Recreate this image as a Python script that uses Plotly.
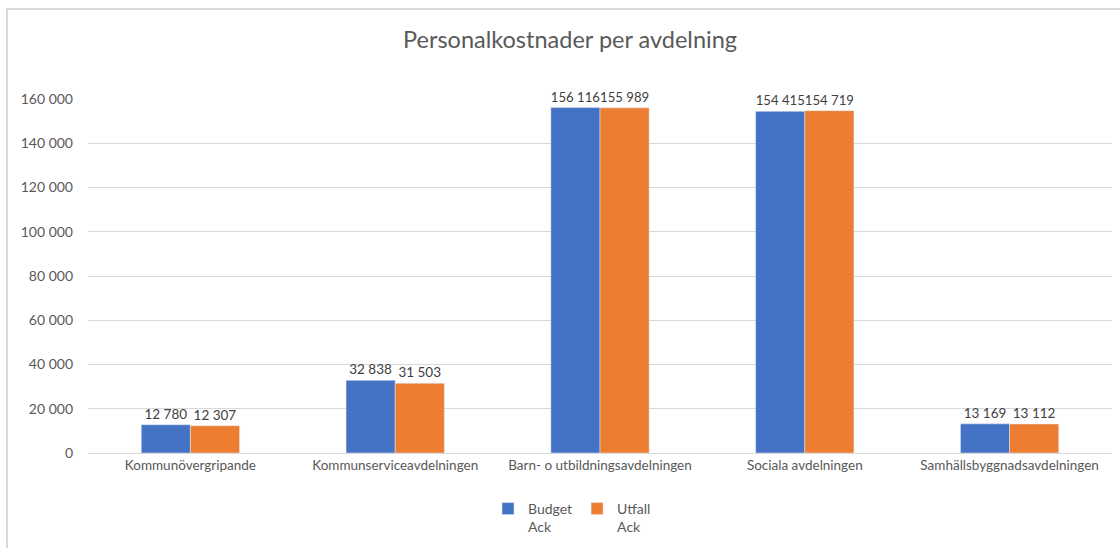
import plotly.graph_objects as go

categories = ["Kommunövergripande", "Kommunserviceavdelningen", "Barn- o utbildningsavdelningen",
              "Sociala avdelningen", "Samhällsbyggnadsavdelningen"]
budget_ack = [12780, 32838, 156116, 154415, 13169]
utfall_ack = [12307, 31503, 155989, 154719, 13112]
y_ticks = [0, 20000, 40000, 60000, 80000, 100000, 120000, 140000, 160000]

FONT = "Lato, 'Open Sans', sans-serif"

fig = go.Figure()
fig.add_trace(go.Bar(name="Budget<br>Ack", x=categories, y=budget_ack, marker_color="#4472C4",
                     texttemplate="%{y:,}", textposition="outside", cliponaxis=False,
                     textfont=dict(size=13.5, color="#404040", family=FONT)))
fig.add_trace(go.Bar(name="Utfall<br>Ack", x=categories, y=utfall_ack, marker_color="#ED7D31",
                     texttemplate="%{y:,}", textposition="outside", cliponaxis=False,
                     textfont=dict(size=13.5, color="#404040", family=FONT)))

L, R, T, B = 88, 8, 99, 95
W, H = 1120, 548
pw, ph = W - L - R, H - T - B

fig.update_layout(
    width=W, height=H,
    margin=dict(l=L, r=R, t=T, b=B, autoexpand=False),
    paper_bgcolor="white", plot_bgcolor="white",
    separators=", ",
    barmode="group", bargap=0.52, bargroupgap=0,
    font=dict(family=FONT, color="#595959"),
    title=dict(text="Personalkostnader per avdelning", x=570 / W, xanchor="center",
               y=1 - 40 / H, yanchor="middle", font=dict(size=23.5, color="#595959", family=FONT)),
    legend=dict(orientation="h", x=(572 - L) / pw, xanchor="center", yref="container",
                y=1 - 493 / H, yanchor="top", valign="top", itemwidth=30,
                font=dict(size=14, color="#595959", family=FONT), traceorder="normal"),
    yaxis=dict(range=[0, 160000], tickvals=y_ticks, tickformat=",d", showgrid=True, gridcolor="#D9D9D9",
               gridwidth=1, zeroline=True, zerolinecolor="#D9D9D9", zerolinewidth=1,
               tickfont=dict(size=14, color="#595959", family=FONT), ticks="", ticklen=0,
               ticklabelstandoff=14, showline=False, automargin=False),
    xaxis=dict(tickfont=dict(size=13.5, color="#595959", family=FONT), showline=True, linecolor="#D9D9D9",
               ticks="", showgrid=False, automargin=False),
    shapes=[dict(type="rect", xref="paper", yref="paper",
                 x0=(7 - L) / pw, x1=(1135 - L) / pw,
                 y0=(453 - 560) / ph, y1=(453 - 9) / ph,
                 line=dict(color="#D9D9D9", width=2), fillcolor="rgba(0,0,0,0)", layer="below")],
)

fig.write_html("out.html", config={"displayModeBar": False},
               post_script="document.body.style.margin='0px';")
